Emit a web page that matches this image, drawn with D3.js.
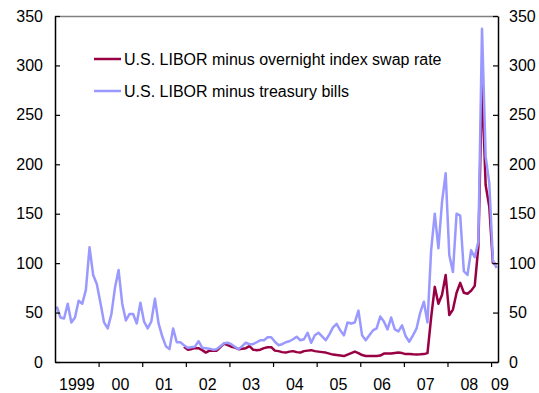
<!DOCTYPE html>
<html>
<head>
<meta charset="utf-8">
<script src="https://cdn.jsdelivr.net/npm/d3@7"></script>
<style>
  html, body { margin: 0; padding: 0; background: #fff; }
  svg { display: block; font-family: "Liberation Sans", Arial, sans-serif; }
</style>
</head>
<body>
<svg id="chart" width="539" height="393"></svg>
<script>
// Monthly series starting January 1999 (index 0 = Jan 1999)
const startYear = 1999;
const treasuryBills = [
  56, 45, 44, 59, 40, 45, 62, 59, 73, 116, 88, 79,
  60, 40, 34, 48, 75, 93, 59, 42, 48.5, 48.5, 39, 60,
  41, 34, 41, 64, 39, 26, 16, 13, 34, 20, 20, 17,
  14.5, 15, 15.5, 21, 14.5, 14, 13.5, 12.5, 13, 16, 19, 19.5,
  18, 15.5, 13, 16, 19.5, 18, 18, 20, 22, 22, 25, 25,
  20.5, 17, 18, 20, 21, 23, 25.6, 22, 23, 29.6, 19.5, 27,
  29.6, 26, 22, 28, 35, 38.5, 32, 27, 40, 39, 40, 52,
  27, 22, 27, 32, 34, 46, 41, 33, 45, 33, 31, 37,
  26, 20.5, 27, 34, 50, 61, 40, 113, 150, 115, 162, 191,
  108, 91, 150, 148, 92, 88, 113, 106, 122, 337, 208, 181,
  103, 95
];
const oisSpread = [
  null, null, null, null, null, null, null, null, null, null, null, null,
  null, null, null, null, null, null, null, null, null, null, null, null,
  null, null, null, null, null, null, null, null, null, null, null, 15.5,
  12.5, 13, 14, 14, 12, 9.5, 11.5, 11.5, 11.5, 15, 18.5, 17,
  15.5, 14.5, 13, 13.5, 14, 16, 12.5, 12, 12.5, 14, 15, 15,
  11.5, 11, 10, 9.5, 10.5, 11, 10, 9.5, 11, 11.5, 12, 11,
  10.5, 10, 9.5, 8.5, 7.5, 7, 6.5, 6, 7.5, 9, 10.5, 9,
  7, 6, 6, 6, 6, 6.5, 8.5, 8.5, 8.5, 9, 9.5, 9,
  8, 8, 7.8, 7.7, 7.8, 8, 9, 45, 76, 59, 68, 88,
  47.5, 53, 70, 80, 70, 69, 72, 77, 117, 282, 179, 157,
  100, 99
];
const yearLabels = ["1999", "00", "01", "02", "03", "04", "05", "06", "07", "08", "09"];
const yTicks = [0, 50, 100, 150, 200, 250, 300, 350];
const seriesNames = ["U.S. LIBOR minus overnight index swap rate", "U.S. LIBOR minus treasury bills"];
const seriesColors = ["#990044", "#9999FF"];

const svg = d3.select("#chart");
const margin = { left: 55, right: 41, top: 16, bottom: 31 };
const W = 539, H = 393;
const innerW = W - margin.left - margin.right;
const innerH = H - margin.top - margin.bottom;
const monthsSpan = 121.9;

const x = d3.scaleLinear().domain([0, monthsSpan]).range([margin.left, margin.left + innerW]);
const y = d3.scaleLinear().domain([0, 350]).range([margin.top + innerH, margin.top]);

const fontSize = 16;
const ff = "Liberation Sans, Arial, sans-serif";

// Frame: top border gray
svg.append("line")
  .attr("x1", margin.left).attr("x2", margin.left + innerW)
  .attr("y1", margin.top + 0.5).attr("y2", margin.top + 0.5)
  .attr("stroke", "#808080").attr("stroke-width", 1.5);

// Lines
const line = d3.line()
  .defined(d => d.v != null)
  .x(d => x(d.m + 0.5))
  .y(d => y(d.v));

const toPts = arr => arr.map((v, i) => ({ m: i, v: v }));

svg.append("path")
  .datum(toPts(oisSpread))
  .attr("d", line)
  .attr("fill", "none")
  .attr("stroke", seriesColors[0])
  .attr("stroke-width", 2.5)
  .attr("stroke-linejoin", "round");

svg.append("path")
  .datum(toPts(treasuryBills))
  .attr("d", line)
  .attr("fill", "none")
  .attr("stroke", seriesColors[1])
  .attr("stroke-width", 2.5)
  .attr("stroke-linejoin", "round");

// Left axis
const leftAxis = d3.axisLeft(y).tickValues(yTicks).tickSizeInner(-5).tickSizeOuter(0).tickPadding(12);
const gL = svg.append("g").attr("transform", `translate(${margin.left},0)`).call(leftAxis);
gL.select(".domain").attr("stroke", "#000").attr("stroke-width", 1.5);
gL.selectAll(".tick line").attr("stroke", "#000").attr("stroke-width", 1.2);
gL.selectAll("text").attr("font-size", fontSize).attr("fill", "#000").attr("font-family", ff);

// Right axis
const rightAxis = d3.axisRight(y).tickValues(yTicks).tickSizeInner(-5).tickSizeOuter(0).tickPadding(11);
const gR = svg.append("g").attr("transform", `translate(${margin.left + innerW},0)`).call(rightAxis);
gR.select(".domain").attr("stroke", "#000").attr("stroke-width", 1.5);
gR.selectAll(".tick line").attr("stroke", "#000").attr("stroke-width", 1.2);
gR.selectAll("text").attr("font-size", fontSize).attr("fill", "#000").attr("font-family", ff);

// Bottom axis: year ticks
const yearTickMonths = d3.range(12, monthsSpan, 12);
const bottomAxis = d3.axisBottom(x).tickValues(yearTickMonths).tickSize(5).tickSizeOuter(0).tickFormat("");
const gB = svg.append("g").attr("transform", `translate(0,${margin.top + innerH})`).call(bottomAxis);
gB.select(".domain").attr("stroke", "#000").attr("stroke-width", 1.5);
gB.selectAll(".tick line").attr("stroke", "#000").attr("stroke-width", 1.2);

// Year labels centred between year ticks (last one starts at its tick)
yearLabels.forEach((lab, i) => {
  const m0 = i * 12;
  const isLast = i === yearLabels.length - 1;
  svg.append("text")
    .attr("x", isLast ? x(m0) : x(m0 + 6))
    .attr("y", margin.top + innerH + 28)
    .attr("text-anchor", isLast ? "start" : "middle")
    .attr("font-size", fontSize)
    .attr("font-family", ff)
    .attr("fill", "#000")
    .text(lab);
});

// Legend
const legend = svg.append("g");
seriesNames.forEach((name, i) => {
  const ly = 59 + i * 32;
  legend.append("line")
    .attr("x1", 94).attr("x2", 121)
    .attr("y1", ly).attr("y2", ly)
    .attr("stroke", seriesColors[i]).attr("stroke-width", 2.5);
  legend.append("text")
    .attr("x", 124).attr("y", ly + 6)
    .attr("font-size", fontSize)
    .attr("font-family", ff)
    .attr("fill", "#000")
    .text(name);
});
</script>
</body>
</html>
